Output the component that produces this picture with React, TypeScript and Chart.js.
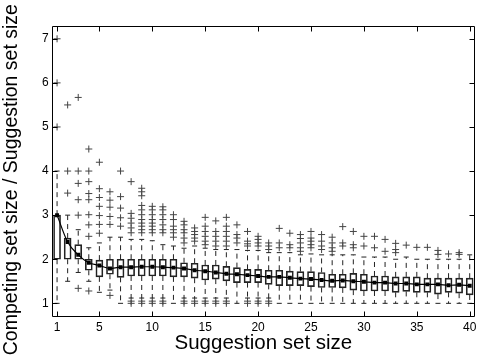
import { useEffect, useRef } from "react";
import { Chart, registerables } from "chart.js";

Chart.register(...registerables);

const suggestionSetSizes = [1, 2, 3, 4, 5, 6, 7, 8, 9, 10, 11, 12, 13, 14, 15, 16, 17, 18, 19, 20, 21, 22, 23, 24, 25, 26, 27, 28, 29, 30, 31, 32, 33, 34, 35, 36, 37, 38, 39, 40];

const q1Values = [2.0, 2.0, 2.0, 1.75, 1.6, 1.66, 1.59, 1.62, 1.62, 1.62, 1.62, 1.6, 1.6, 1.57, 1.53, 1.55, 1.51, 1.47, 1.47, 1.47, 1.43, 1.4, 1.4, 1.4, 1.38, 1.36, 1.36, 1.35, 1.3, 1.28, 1.28, 1.28, 1.25, 1.27, 1.25, 1.25, 1.21, 1.25, 1.23, 1.19];

const q3Values = [3.0, 2.48, 2.33, 2.0, 1.98, 2.0, 2.0, 2.0, 2.0, 2.0, 2.0, 2.0, 1.92, 1.91, 1.87, 1.87, 1.84, 1.81, 1.77, 1.77, 1.75, 1.75, 1.73, 1.72, 1.72, 1.7, 1.66, 1.66, 1.68, 1.66, 1.62, 1.62, 1.6, 1.6, 1.6, 1.57, 1.57, 1.57, 1.57, 1.57];

const meanValues = [3.0, 2.39, 2.1, 1.92, 1.86, 1.79, 1.82, 1.82, 1.83, 1.83, 1.82, 1.81, 1.79, 1.75, 1.73, 1.7, 1.67, 1.66, 1.64, 1.62, 1.6, 1.6, 1.58, 1.56, 1.55, 1.53, 1.51, 1.52, 1.5, 1.49, 1.47, 1.47, 1.45, 1.45, 1.43, 1.43, 1.43, 1.41, 1.42, 1.4];

const whiskerLow = [1.0, 1.5, 1.7, 1.5, 1.25, 1.3, 1.0, 1.12, 1.12, 1.12, 1.12, 1.0, 1.12, 1.12, 1.12, 1.12, 1.12, 1.0, 1.12, 1.12, 1.12, 1.0, 1.0, 1.0, 1.0, 1.0, 1.0, 1.0, 1.0, 1.0, 1.0, 1.0, 1.0, 1.0, 1.0, 1.0, 1.0, 1.0, 1.0, 1.0];

const whiskerHigh = [4.0, 3.0, 2.67, 2.26, 2.37, 2.5, 2.5, 2.45, 2.45, 2.42, 2.33, 2.3, 2.25, 2.3, 2.25, 2.22, 2.22, 2.22, 2.2, 2.2, 2.15, 2.15, 2.15, 2.1, 2.12, 2.1, 2.1, 2.1, 2.1, 2.05, 2.05, 2.05, 2.0, 2.05, 2.0, 2.0, 2.0, 2.0, 2.0, 2.1];

const outlierValues = [
  [5.0, 6.0, 7.0],
  [3.5, 4.0, 5.5],
  [1.34, 3.0, 3.35, 3.72, 4.0, 5.67],
  [1.28, 2.52, 2.78, 3.01, 3.35, 3.49, 3.76, 4.0, 4.5],
  [2.59, 2.79, 2.99, 3.2, 3.4, 3.6, 4.2],
  [1.18, 2.79, 2.97, 3.18, 3.34, 3.53],
  [2.75, 2.94, 3.16, 3.42, 4.0],
  [1.0, 1.05, 2.6, 2.71, 2.82, 2.93, 3.04, 3.76],
  [1.0, 1.05, 2.6, 2.67, 2.75, 2.82, 2.9, 3.01, 3.12, 3.22, 3.44, 3.53, 3.61],
  [1.0, 1.05, 2.6, 2.67, 2.75, 2.82, 2.9, 3.01, 3.12, 3.2],
  [1.0, 1.05, 2.6, 2.67, 2.78, 2.9, 3.01, 3.12, 3.19],
  [2.5, 2.6, 2.67, 2.75, 2.9, 3.01],
  [1.0, 1.05, 2.37, 2.48, 2.6, 2.67, 2.78, 2.86],
  [1.0, 1.05, 2.41, 2.48, 2.56, 2.63, 2.71],
  [1.0, 1.05, 2.33, 2.41, 2.52, 2.63, 2.75, 2.95],
  [1.0, 1.05, 2.3, 2.41, 2.52, 2.63, 2.87],
  [1.0, 1.05, 2.3, 2.41, 2.52, 2.63, 2.75, 2.95],
  [2.37, 2.48, 2.56, 2.78],
  [1.0, 1.05, 2.3, 2.35, 2.41, 2.63],
  [1.0, 1.05, 2.3, 2.37, 2.45, 2.52],
  [1.0, 1.05, 2.22, 2.3, 2.37],
  [2.26, 2.37, 2.7],
  [2.26, 2.33, 2.59],
  [2.18, 2.26, 2.37, 2.47, 2.56],
  [2.26, 2.33, 2.41, 2.48, 2.63],
  [2.22, 2.3, 2.41, 2.56],
  [2.18, 2.26, 2.37, 2.5],
  [2.3, 2.37, 2.74],
  [2.26, 2.33, 2.63],
  [2.3, 2.52],
  [2.26, 2.52],
  [2.18, 2.45],
  [2.15, 2.22, 2.36],
  [2.32],
  [2.27],
  [2.27],
  [2.11, 2.2],
  [2.12],
  [2.11, 2.15],
  [],
];

const xTickValues = [1, 5, 10, 15, 20, 25, 30, 35, 40];
const yTickValues = [1, 2, 3, 4, 5, 6, 7];

const FONT = "'Liberation Sans', Arial, Helvetica, sans-serif";

const frameAndTicks = {
  id: "frameAndTicks",
  afterDraw(chart: any) {
    const { ctx, chartArea, scales } = chart;
    const L = Math.round(chartArea.left) + 0.5;
    const R = Math.round(chartArea.right) - 0.5;
    const T = Math.round(chartArea.top) + 0.5;
    const B = Math.round(chartArea.bottom) - 0.5;
    const len = 5;
    ctx.save();
    ctx.strokeStyle = "#000";
    ctx.lineWidth = 1;
    ctx.beginPath();
    ctx.rect(L, T, R - L, B - T);
    for (const v of xTickValues) {
      const px = Math.round(scales.x.getPixelForValue(v)) + 0.5;
      ctx.moveTo(px, B);
      ctx.lineTo(px, B - len);
      ctx.moveTo(px, T);
      ctx.lineTo(px, T + len);
    }
    for (const v of yTickValues) {
      const py = Math.round(scales.y.getPixelForValue(v)) + 0.5;
      ctx.moveTo(L, py);
      ctx.lineTo(L + len, py);
      ctx.moveTo(R, py);
      ctx.lineTo(R - len, py);
    }
    ctx.stroke();
    ctx.restore();
  },
};

export default function App() {
  const canvasRef = useRef<HTMLCanvasElement | null>(null);

  useEffect(() => {
    document.body.style.margin = "0";
    const canvas = canvasRef.current;
    if (!canvas) return;

    const boxData = suggestionSetSizes.map((x, i) => ({ x, y: [q1Values[i], q3Values[i]] }));
    const whiskerData: any[] = [];
    suggestionSetSizes.forEach((x, i) => {
      whiskerData.push({ x, y: q3Values[i] });
      whiskerData.push({ x, y: whiskerHigh[i] });
      whiskerData.push({ x, y: null });
      whiskerData.push({ x, y: q1Values[i] });
      whiskerData.push({ x, y: whiskerLow[i] });
      whiskerData.push({ x, y: null });
    });
    const capData: any[] = [];
    suggestionSetSizes.forEach((x, i) => {
      capData.push({ x, y: whiskerHigh[i] });
      capData.push({ x, y: whiskerLow[i] });
    });
    const outlierData: any[] = [];
    suggestionSetSizes.forEach((x, i) => {
      outlierValues[i].forEach((v) => outlierData.push({ x, y: v }));
    });
    const meanData = suggestionSetSizes.map((x, i) => ({ x, y: meanValues[i] }));

    const chart = new Chart(canvas, {
      type: "bar",
      data: {
        datasets: [
          {
            type: "line",
            data: meanData,
            borderColor: "#000",
            borderWidth: 1.2,
            pointStyle: "rect",
            pointRadius: 2.8,
            pointBackgroundColor: "#000",
            pointBorderWidth: 0,
            cubicInterpolationMode: "monotone",
            order: 0,
          } as any,
          {
            type: "bar",
            data: boxData,
            backgroundColor: "rgba(255,255,255,0)",
            borderColor: "#222",
            borderWidth: 1,
            borderSkipped: false,
            barThickness: 7,
            order: 1,
          } as any,
          {
            type: "line",
            data: whiskerData,
            borderColor: "#222",
            borderWidth: 1,
            borderDash: [5, 4],
            pointRadius: 0,
            spanGaps: false,
            tension: 0,
            order: 2,
          } as any,
          {
            type: "scatter",
            data: capData,
            pointStyle: "line",
            pointRadius: 2.5,
            borderColor: "#222",
            borderWidth: 1,
            order: 3,
          } as any,
          {
            type: "scatter",
            data: outlierData,
            pointStyle: "cross",
            pointRadius: 3.5,
            borderColor: "#444",
            borderWidth: 1,
            order: 4,
          } as any,
        ],
      },
      options: {
        responsive: false,
        animation: false,
        events: [],
        layout: { padding: { top: 26, right: 5, left: 0, bottom: 0 } },
        plugins: { legend: { display: false }, tooltip: { enabled: false } },
        scales: {
          x: {
            type: "linear",
            min: 0.5,
            max: 40.5,
            offset: false,
            grid: { display: false, drawTicks: false, offset: false },
            border: { display: false },
            afterBuildTicks: (axis: any) => {
              axis.ticks = xTickValues.map((v) => ({ value: v }));
            },
            ticks: {
              color: "#000",
              padding: 3,
              maxRotation: 0,
              autoSkip: false,
              font: { family: FONT, size: 12 },
            },
            title: {
              display: true,
              text: "Suggestion set size",
              color: "#000",
              font: { family: FONT, size: 20.5, lineHeight: 1 },
              padding: { top: -3.9, bottom: 1 },
            },
          },
          y: {
            type: "linear",
            min: 0.69,
            max: 7.29,
            grid: { display: false, drawTicks: false },
            border: { display: false },
            afterBuildTicks: (axis: any) => {
              axis.ticks = yTickValues.map((v) => ({ value: v }));
            },
            ticks: {
              color: "#000",
              padding: 3,
              font: { family: FONT, size: 12 },
            },
            title: {
              display: true,
              text: "Competing set size / Suggestion set size\u00a0\u00a0\u00a0",
              color: "#000",
              font: { family: FONT, size: 19.5, lineHeight: 1 },
              padding: { top: 2, bottom: 17.6 },
            },
          },
        },
      } as any,
      plugins: [frameAndTicks],
    });

    return () => chart.destroy();
  }, []);

  return (
    <canvas
      ref={canvasRef}
      width={480}
      height={355}
      style={{ display: "block", position: "fixed", left: 0, top: 0 }}
    />
  );
}
